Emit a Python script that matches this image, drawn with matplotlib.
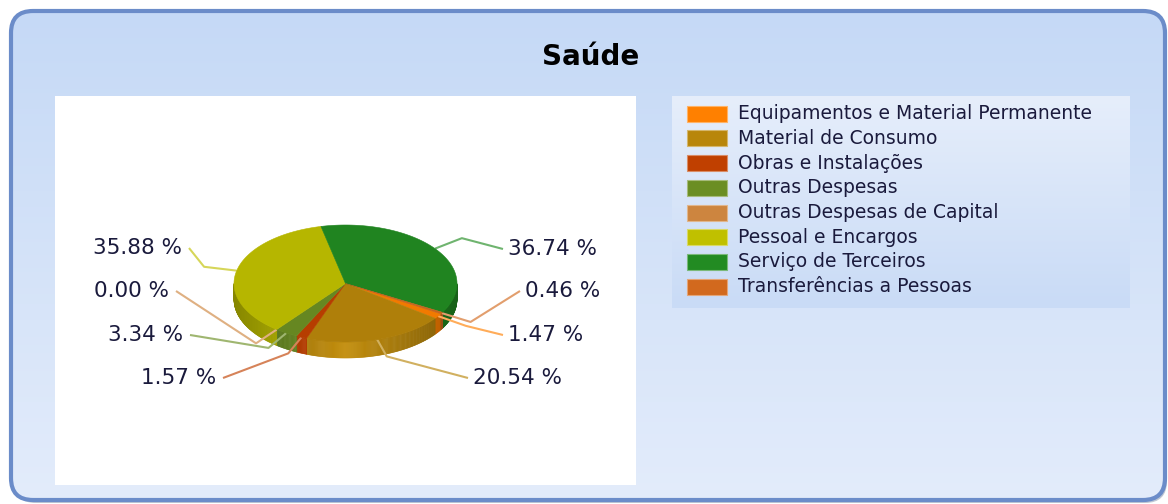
import numpy as np
import matplotlib.pyplot as plt
from matplotlib.patches import FancyBboxPatch, Polygon, Rectangle
from matplotlib.colors import to_rgb

# data
categories = ['Equipamentos e Material Permanente', 'Material de Consumo',
              'Obras e Instalações', 'Outras Despesas',
              'Outras Despesas de Capital', 'Pessoal e Encargos',
              'Serviço de Terceiros', 'Transferências a Pessoas']
percents = [1.47, 20.54, 1.57, 3.34, 0.00, 35.88, 36.74, 0.46]
colors = ['#ff8000', '#b8860b', '#c04000', '#6b8e23',
          '#cd853f', '#c0c000', '#228b22', '#d2691e']
title = 'Saúde'

# layout (pixels)
W, H = 1168, 504
cx, cy, rx, ry, depth = 345.5, 283.5, 111.5, 58.5, 16
start_angle = -31.2
# end of each leader line, next to its label
leader_end = [(503, 335), (468, 378), (223, 378), (190, 335),
              (176, 291), (189, 248), (503, 249), (520, 291)]
text_col = '#1a1a3c'


def mix(c, f):
    r = np.array(to_rgb(c)) * f
    return tuple(np.clip(r, 0, 1))


def lighten(c, a):
    r = np.array(to_rgb(c))
    return tuple(r + (1 - r) * a)


def pt(theta, r=1.0, dy=0.0):
    t = np.radians(theta)
    return cx + r * rx * np.cos(t), cy - r * ry * np.sin(t) + dy


def main():
    fig = plt.figure(figsize=(W / 100, H / 100), dpi=100)
    ax = fig.add_axes([0, 0, 1, 1])

    # panel with shadow and gradient
    shadow = FancyBboxPatch((14, 14), 1153, 489, boxstyle='round,pad=0,rounding_size=22',
                            fc='#8090a8', ec='none', alpha=0.5, zorder=0)
    ax.add_patch(shadow)
    panel = FancyBboxPatch((11, 11), 1154, 489, boxstyle='round,pad=0,rounding_size=22',
                           fc='none', ec='#6b8cc9', lw=3, zorder=3)
    ax.add_patch(panel)
    grad = np.linspace(0, 1, 256)[:, None, None]
    top = np.array(to_rgb('#c5d9f6'))
    bot = np.array(to_rgb('#e3ecfb'))
    img = top * (1 - grad) + bot * grad
    im = ax.imshow(img, extent=(11, 1165, 500, 11), aspect='auto', zorder=1)
    im.set_clip_path(panel)

    # plot area
    ax.add_patch(Rectangle((55, 96), 581, 389, fc='white', ec='none', zorder=2))

    # legend box
    ltop = np.array(to_rgb('#e6eefb'))
    lbot = np.array(to_rgb('#c9dbf6'))
    limg = ltop * (1 - grad) + lbot * grad
    ax.imshow(limg, extent=(672, 1130, 308, 96), aspect='auto', zorder=2)

    ax.text(591, 57, title, ha='center', va='center', fontsize=20,
            fontweight='bold', color='black', zorder=5)

    # angles
    spans = [p * 3.6 for p in percents]
    starts = start_angle - np.concatenate([[0], np.cumsum(spans)[:-1]])
    ends = starts - np.array(spans)

    # side walls (front half only)
    for s, e, c in zip(starts, ends, colors):
        if s - e <= 0:
            continue
        angs = np.arange(e, s, 0.5).tolist() + [s]
        for a0, a1 in zip(angs[:-1], angs[1:]):
            for off in (0, -360, 360):
                l2, h2 = max(a0 + off, -180), min(a1 + off, 0)
                if h2 > l2:
                    m = np.radians((l2 + h2) / 2)
                    f = 0.7 + 0.36 * (1 - abs(np.cos(m)))
                    p1, p2 = pt(l2), pt(h2)
                    p3, p4 = pt(h2, dy=depth), pt(l2, dy=depth)
                    ax.add_patch(Polygon([p1, p2, p3, p4], closed=True,
                                         fc=mix(c, f), ec=mix(c, f), lw=0.4, zorder=4))

    # top surface
    for s, e, c in zip(starts, ends, colors):
        if s - e <= 0:
            continue
        angs = np.linspace(s, e, max(int((s - e) * 2), 2))
        verts = [(cx, cy)] + [pt(a) for a in angs]
        tc = mix(c, 0.95)
        ax.add_patch(Polygon(verts, closed=True, fc=tc, ec=tc, lw=0.4, zorder=5))

    # labels and leader lines
    for s, e, c, p, (lx, ly) in zip(starts, ends, colors, percents, leader_end):
        mid = (s + e) / 2
        x0, y0 = pt(mid)
        x1, y1 = pt(mid, 1.3)
        ax.plot([x0, x1, lx], [y0, y1, ly], color=lighten(c, 0.35), lw=1.5,
                zorder=4.5, solid_capstyle='butt')
        right = lx > cx
        ax.text(lx + 5 if right else lx - 7, ly, '{:.2f} %'.format(p),
                ha='left' if right else 'right', va='center', fontsize=15.5,
                color=text_col, zorder=6)

    # legend entries
    for i, (name, c) in enumerate(zip(categories, colors)):
        y = 113.7 + i * 24.7
        ax.add_patch(Rectangle((687, y - 8), 40, 16, fc=c, ec=lighten(c, 0.4),
                               lw=0.8, zorder=5))
        ax.text(738, y, name, ha='left', va='center', fontsize=13.5,
                color=text_col, zorder=6)

    ax.set_xlim(0, W)
    ax.set_ylim(H, 0)
    ax.axis('off')
    fig.savefig('out.png', dpi=100)


if __name__ == '__main__':
    main()
